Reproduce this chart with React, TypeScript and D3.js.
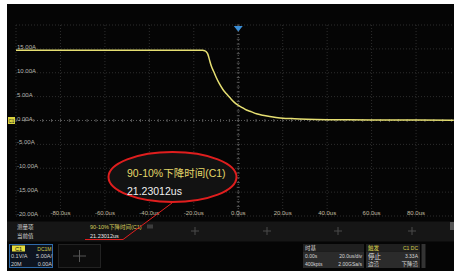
import React from "react";
import * as d3 from "d3";

const W = 454;
const H = 273;

// waveform (time in us, current in A)
const timeUs = [-100, -16, -15.1, -14.4, -13.7, -13, -12.2, -11, -9.9, -8.5, -6.9, -5.3, -3.8, -2, -0.1, 1.8, 3.7, 6, 8.2, 11, 14.2, 17, 20.2, 24, 27.7, 35, 45, 60, 80, 97];
const currentA = [14.7, 14.7, 14.6, 14.4, 13.9, 12.8, 11.5, 10.2, 9.0, 7.7, 6.5, 5.6, 4.8, 3.9, 3.2, 2.7, 2.2, 1.8, 1.4, 1.1, 0.84, 0.65, 0.48, 0.4, 0.32, 0.22, 0.15, 0.1, 0.08, 0.05];

const xTicks = [-100, -80, -60, -40, -20, 0, 20, 40, 60, 80, 100];
const yTicks = [20, 15, 10, 5, 0, -5, -10, -15, -20];
const xLabels = ["-80.0us", "-60.0us", "-40.0us", "-20.0us", "0.0us", "20.0us", "40.0us", "60.0us", "80.0us"];
const yLabels = ["15.00A", "10.00A", "5.00A", "0.00A", "-5.00A", "-10.00A", "-15.00A", "-20.00A"];

const measureName = "90-10%下降时间(C1)";
const measureValue = "21.23012us";

const font = "'Liberation Sans', Arial, sans-serif";
const cjk = "'Liberation Sans', 'Noto Sans CJK SC', sans-serif";

const App = () => {
  const x = d3.scaleLinear().domain([-100, 100]).range([16, 460.5]);
  const y = d3.scaleLinear().domain([-20, 20]).range([216, 25]);

  const line = d3
    .line<number>()
    .x((d, i) => x(timeUs[i]))
    .y(d => y(d))
    .curve(d3.curveMonotoneX);

  const minorX = d3.range(-100, 101, 4);
  const minorY = d3.range(-20, 21, 1);

  return (
    <svg width={W} height={H} style={{ position: "absolute", left: 0, top: 0, background: "#fff" }}>
      <rect x={7} y={4} width={W - 7} height={267} fill="#050505" />

      {/* grid */}
      {xTicks.map(t => (
        <line key={"gx" + t} x1={x(t)} x2={x(t)} y1={y(20)} y2={y(-20)}
          stroke={t === 0 ? "#5a5a5a" : "#2e2e2e"} strokeWidth={1} strokeDasharray="1,2" />
      ))}
      {yTicks.map(v => (
        <line key={"gy" + v} x1={x(-100)} x2={W} y1={y(v)} y2={y(v)}
          stroke={v === 0 ? "#5a5a5a" : "#2e2e2e"} strokeWidth={1} strokeDasharray="1,2" />
      ))}
      {minorX.map(t => (
        <line key={"mx" + t} x1={x(t)} x2={x(t)} y1={y(0) - 1.5} y2={y(0) + 1.5} stroke="#555" />
      ))}
      {minorY.map(v => (
        <line key={"my" + v} x1={x(0) - 1.5} x2={x(0) + 1.5} y1={y(v)} y2={y(v)} stroke="#555" />
      ))}

      {/* axis labels */}
      {yLabels.map((l, i) => (
        <text key={l} x={17} y={y(yTicks[i + 1])} fontSize={6} fill="#b8b8b0" fontFamily={font}>{l}</text>
      ))}
      {xLabels.map((l, i) => (
        <text key={l} x={x(xTicks[i + 1])} y={215} fontSize={6} fill="#c0bca0" fontFamily={font} textAnchor="middle">{l}</text>
      ))}

      {/* trace */}
      <path d={line(currentA) || ""} fill="none" stroke="#e6df72" strokeWidth={1.5} />

      {/* trigger marker & channel marker */}
      <path d={`M${x(0) - 4.5},26 L${x(0) + 4.5},26 L${x(0)},31.5 Z`} fill="#3b8ed6" />
      <rect x={8} y={117} width={7} height={7} fill="#d9d23c" />
      <text x={11.5} y={122.5} fontSize={4.5} fill="#222" textAnchor="middle" fontFamily={font}>C1</text>

      {/* measurement popup */}
      <ellipse cx={172.5} cy={177} rx={64} ry={25} fill="#121212" stroke="#e01e1e" strokeWidth={2} />
      <text x={127} y={177} fontSize={10.5} fill="#e2d86a" fontFamily={cjk}>{measureName}</text>
      <text x={127} y={195} fontSize={10.5} fill="#f0f0f0" fontFamily={font}>{measureValue}</text>

      {/* measurement panel */}
      <rect x={7} y={221.5} width={W - 7} height={20} fill="#161616" />
      <text x={17} y={228.5} fontSize={5.5} fill="#cfcfcf" fontFamily={cjk}>测量项</text>
      <text x={17} y={238} fontSize={5.5} fill="#cfcfcf" fontFamily={cjk}>当前值</text>
      <text x={90} y={228.5} fontSize={5.5} fill="#d8cf5c" fontFamily={cjk}>{measureName}</text>
      <rect x={147} y={224.5} width={6} height={4} fill="#3c3c3c" />
      <text x={90} y={238} fontSize={5.5} fill="#e8e8e8" fontFamily={font}>{measureValue}</text>
      {[195, 267, 338, 412].map(px => (
        <g key={px} stroke="#4a4a4a">
          <line x1={px - 4} x2={px + 4} y1={231} y2={231} />
          <line x1={px} x2={px} y1={227} y2={235} />
        </g>
      ))}
      <rect x={450} y={222} width={4} height={8} fill="#555" />
      <line x1={85} x2={123} y1={239.5} y2={239.5} stroke="#e01e1e" strokeWidth={1} />
      <line x1={123} x2={172} y1={239.5} y2={203} stroke="#e01e1e" strokeWidth={1} />

      {/* channel box */}
      <rect x={9.5} y={244.5} width={43} height={23} fill="#0d1420" stroke="#2f6aa8" strokeWidth={1} />
      <rect x={12} y={245.5} width={13} height={6} fill="#e4dc3e" />
      <text x={18.5} y={250.5} fontSize={5.5} fill="#111" textAnchor="middle" fontFamily={font}>C1</text>
      <text x={51.5} y={250.5} fontSize={5} fill="#d8d04a" textAnchor="end" fontFamily={font}>DC1M</text>
      <text x={11} y={258} fontSize={5.5} fill="#d0d0d0" fontFamily={font}>0.1V/A</text>
      <text x={52} y={258} fontSize={5.5} fill="#d0d0d0" textAnchor="end" fontFamily={font}>5.00A/</text>
      <text x={11} y={265.5} fontSize={5.5} fill="#d0d0d0" fontFamily={font}>20M</text>
      <text x={52} y={265.5} fontSize={5.5} fill="#d0d0d0" textAnchor="end" fontFamily={font}>0.00A</text>

      <rect x={58.5} y={244.5} width={42} height={23} fill="#0c0c0c" stroke="#222" />
      <g stroke="#555">
        <line x1={73} x2={86} y1={256} y2={256} />
        <line x1={79.5} x2={79.5} y1={250} y2={262} />
      </g>

      {/* timebase box */}
      <rect x={303} y={244} width={61} height={7.5} fill="#1f1f1f" />
      <rect x={303} y={251.5} width={61} height={16.5} fill="#2b2b2b" />
      <text x={305} y={250} fontSize={5.5} fill="#d8d8d8" fontFamily={cjk}>时基</text>
      <text x={305} y={258} fontSize={5} fill="#d8d8d8" fontFamily={font}>0.00s</text>
      <text x={362} y={258} fontSize={5} fill="#d8d8d8" textAnchor="end" fontFamily={font}>20.0us/div</text>
      <text x={305} y={265.5} fontSize={5} fill="#d8d8d8" fontFamily={font}>400kpts</text>
      <text x={362} y={265.5} fontSize={5} fill="#d8d8d8" textAnchor="end" fontFamily={font}>2.00GSa/s</text>

      {/* trigger box */}
      <rect x={366} y={244} width={54} height={7.5} fill="#1f1f1f" />
      <rect x={366} y={251.5} width={54} height={16.5} fill="#2b2b2b" />
      <text x={368} y={250} fontSize={5.5} fill="#d8d04a" fontFamily={cjk}>触发</text>
      <text x={418} y={250} fontSize={5} fill="#d8d04a" textAnchor="end" fontFamily={font}>C1 DC</text>
      <text x={368} y={258.5} fontSize={6.5} fill="#e0e0e0" fontFamily={cjk}>停止</text>
      <text x={418} y={258} fontSize={5} fill="#d8d8d8" textAnchor="end" fontFamily={font}>3.33A</text>
      <text x={368} y={266} fontSize={5.5} fill="#d8d8d8" fontFamily={cjk}>边沿</text>
      <text x={418} y={265.5} fontSize={5.5} fill="#d8d8d8" textAnchor="end" fontFamily={cjk}>下降沿</text>
      <rect x={421.5} y={244} width={4} height={24} fill="#333" />
    </svg>
  );
};

export default App;
